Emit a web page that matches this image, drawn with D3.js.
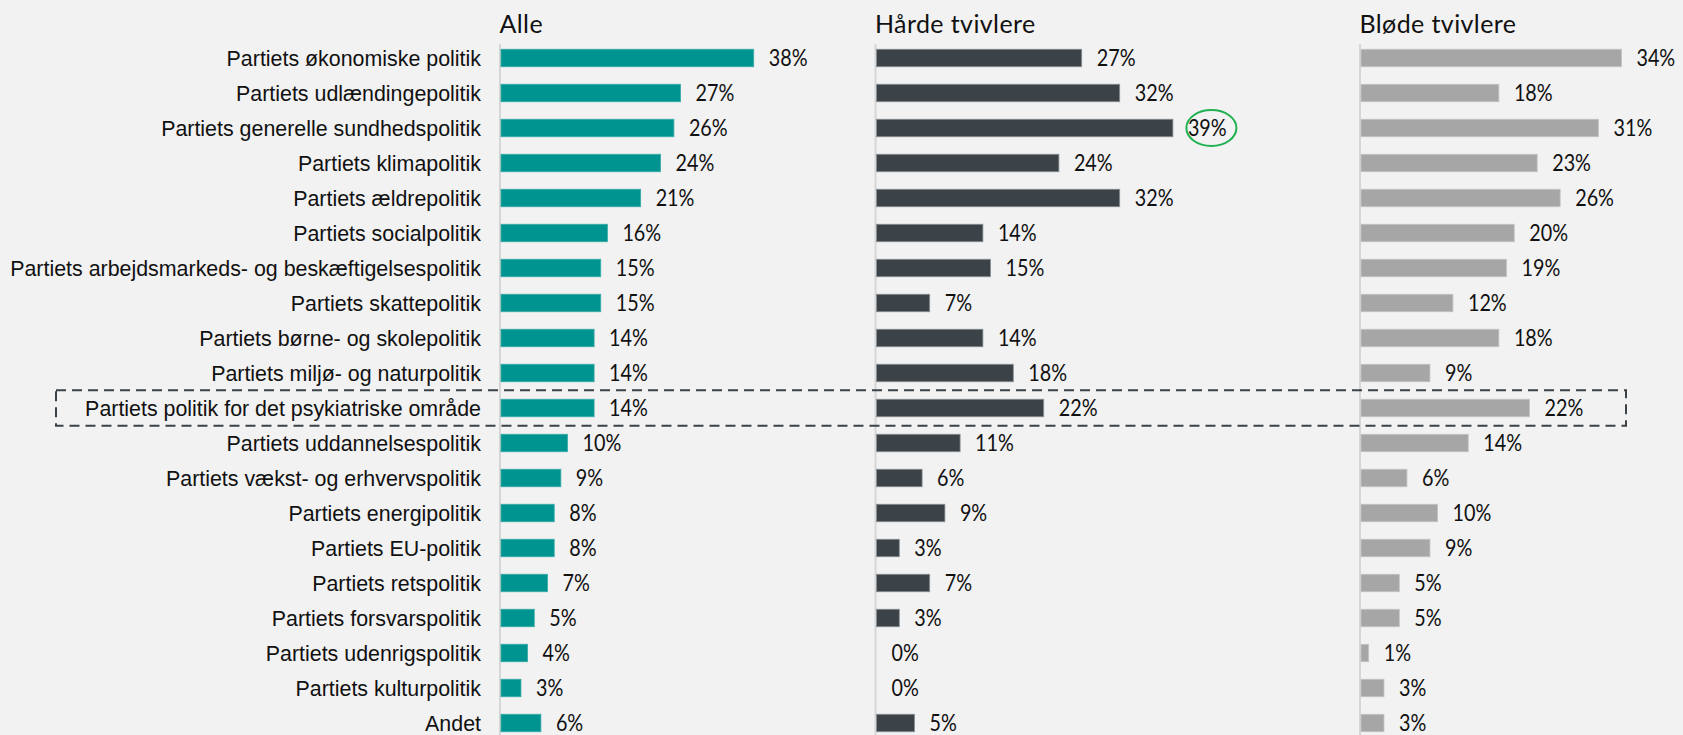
<!DOCTYPE html>
<html>
<head>
<meta charset="utf-8">
<script src="https://cdn.jsdelivr.net/npm/d3@7"></script>
<style>
  html, body { margin: 0; padding: 0; background: #f2f2f2; }
  svg { display: block; }
</style>
</head>
<body>
<svg id="chart" width="1683" height="735"></svg>
<script>
const categories = [
  "Partiets økonomiske politik",
  "Partiets udlændingepolitik",
  "Partiets generelle sundhedspolitik",
  "Partiets klimapolitik",
  "Partiets ældrepolitik",
  "Partiets socialpolitik",
  "Partiets arbejdsmarkeds- og beskæftigelsespolitik",
  "Partiets skattepolitik",
  "Partiets børne- og skolepolitik",
  "Partiets miljø- og naturpolitik",
  "Partiets politik for det psykiatriske område",
  "Partiets uddannelsespolitik",
  "Partiets vækst- og erhvervspolitik",
  "Partiets energipolitik",
  "Partiets EU-politik",
  "Partiets retspolitik",
  "Partiets forsvarspolitik",
  "Partiets udenrigspolitik",
  "Partiets kulturpolitik",
  "Andet"
];
const seriesNames = ["Alle", "Hårde tvivlere", "Bløde tvivlere"];
const alleValues   = [38, 27, 26, 24, 21, 16, 15, 15, 14, 14, 14, 10, 9, 8, 8, 7, 5, 4, 3, 6];
const haardeValues = [27, 32, 39, 24, 32, 14, 15, 7, 14, 18, 22, 11, 6, 9, 3, 7, 3, 0, 0, 5];
const bloedeValues = [34, 18, 31, 23, 26, 20, 19, 12, 18, 9, 22, 14, 6, 10, 9, 5, 5, 1, 3, 3];
const highlightCategory = "Partiets politik for det psykiatriske område";
const circledSeries = "Hårde tvivlere";
const circledCategory = "Partiets generelle sundhedspolitik";

const svg = d3.select("#chart");
const W = 1683, H = 735;

svg.append("rect").attr("width", W).attr("height", H).attr("fill", "#f2f2f2");

const y = d3.scaleBand()
  .domain(categories)
  .range([40.5, 740.5])
  .paddingInner(0.5)
  .paddingOuter(0.25);

const panels = [
  { name: seriesNames[0], values: alleValues,   color: "#009490", edge: "#3aaba6", x0: 501,    pxPerPct: 6.65 },
  { name: seriesNames[1], values: haardeValues, color: "#3b4349", edge: "#8a9094", x0: 876.5,  pxPerPct: 7.6 },
  { name: seriesNames[2], values: bloedeValues, color: "#a6a6a6", edge: "#c4c4c4", x0: 1361,   pxPerPct: 7.66 }
];

// Category labels
svg.append("g")
  .selectAll("text")
  .data(categories)
  .join("text")
  .attr("x", 481)
  .attr("y", d => y(d) + y.bandwidth() / 2)
  .attr("dy", "0.38em")
  .attr("text-anchor", "end")
  .attr("font-family", "'Liberation Sans', Arial, sans-serif")
  .attr("font-size", 21.4)
  .attr("fill", "#111")
  .text(d => d);

panels.forEach(p => {
  const x = d3.scaleLinear().domain([0, 40]).range([p.x0, p.x0 + 40 * p.pxPerPct]);
  const g = svg.append("g");

  // baseline axis
  g.append("line")
    .attr("x1", p.x0 - 1).attr("x2", p.x0 - 1)
    .attr("y1", 44).attr("y2", H)
    .attr("stroke", "#d6d6d6").attr("stroke-width", 2);

  // title
  g.append("text")
    .attr("x", p.x0 - 1.5)
    .attr("y", 32.5)
    .attr("font-family", "Lato, 'Noto Sans', sans-serif")
    .attr("font-size", 25)
    .attr("letter-spacing", 0.4)
    .attr("fill", "#111")
    .text(p.name);

  const data = categories.map((c, i) => ({ c, v: p.values[i] }));

  g.selectAll("rect.bar")
    .data(data.filter(d => d.v > 0))
    .join("rect")
    .attr("class", "bar")
    .attr("x", x(0))
    .attr("y", d => y(d.c))
    .attr("width", d => x(d.v) - x(0))
    .attr("height", y.bandwidth())
    .attr("fill", p.color)
    .attr("stroke", p.edge)
    .attr("stroke-width", 0.8);

  g.selectAll("text.val")
    .data(data)
    .join("text")
    .attr("class", "val")
    .attr("transform", d => `translate(${x(d.v) + 15},${y(d.c) + y.bandwidth() / 2}) scale(0.86,1)`)
    .attr("dy", "0.36em")
    .attr("font-family", "Lato, 'Noto Sans', sans-serif")
    .attr("font-size", 23)
    .attr("fill", "#111")
    .text(d => d.v + "%");

  if (p.name === circledSeries) {
    const v = p.values[categories.indexOf(circledCategory)];
    g.append("ellipse")
      .attr("cx", x(v) + 38.5)
      .attr("cy", y(circledCategory) + y.bandwidth() / 2)
      .attr("rx", 25)
      .attr("ry", 18)
      .attr("fill", "none")
      .attr("stroke", "#1fb152")
      .attr("stroke-width", 2);
  }
});

// dashed highlight box
svg.append("rect")
  .attr("x", 56)
  .attr("y", y(highlightCategory) - 9)
  .attr("width", 1626 - 56)
  .attr("height", y.bandwidth() + 18)
  .attr("fill", "none")
  .attr("stroke", "#3b4349")
  .attr("stroke-width", 2)
  .attr("stroke-dasharray", "10,6");
</script>
</body>
</html>
